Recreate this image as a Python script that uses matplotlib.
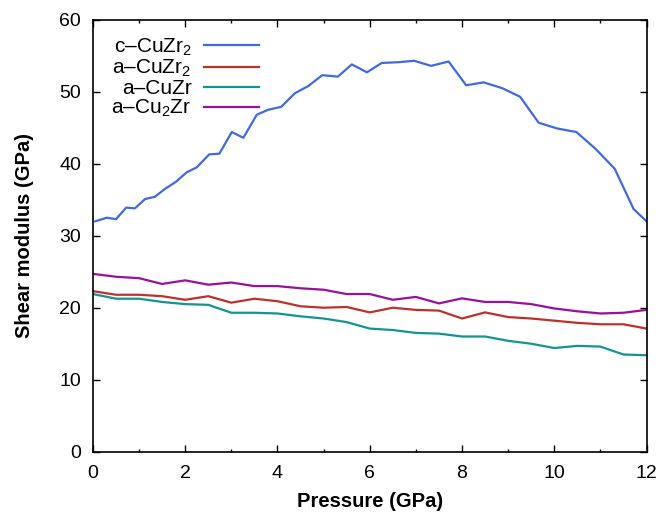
import numpy as np
import matplotlib
matplotlib.use('Agg')
import matplotlib.pyplot as plt
from matplotlib.ticker import MultipleLocator

plt.rcParams['font.family'] = ['Liberation Sans', 'DejaVu Sans']
plt.rcParams['mathtext.fontset'] = 'custom'
plt.rcParams['mathtext.rm'] = 'Liberation Sans'
plt.rcParams['mathtext.it'] = 'Liberation Sans:italic'
plt.rcParams['mathtext.bf'] = 'Liberation Sans:bold'

# c-CuZr2 (finer pressure sampling)
p_c = [0.05, 0.30, 0.50, 0.72, 0.91, 1.13, 1.34, 1.56, 1.80, 2.03,
       2.25, 2.52, 2.74, 3.01, 3.26, 3.55, 3.80, 4.08, 4.38, 4.67,
       4.97, 5.31, 5.61, 5.94, 6.26, 6.62, 6.96, 7.33, 7.71, 8.09,
       8.47, 8.87, 9.26, 9.66, 10.06, 10.48, 10.89, 11.31, 11.72, 12.0]
g_c = [32.0, 32.5, 32.3, 33.9, 33.8, 35.1, 35.4, 36.5, 37.5, 38.8,
       39.5, 41.3, 41.4, 44.4, 43.6, 46.8, 47.5, 47.9, 49.8, 50.8,
       52.3, 52.1, 53.8, 52.7, 54.0, 54.1, 54.3, 53.6, 54.2, 50.9,
       51.3, 50.5, 49.3, 45.7, 44.9, 44.4, 42.1, 39.3, 33.7, 32.0]

# amorphous samples, every 0.5 GPa
p_a = np.arange(0, 12.01, 0.5)
g_aCuZr2 = [22.3, 21.8, 21.8, 21.6, 21.1, 21.6, 20.7, 21.25, 20.9, 20.2,
            20.0, 20.1, 19.35, 20.0, 19.7, 19.6, 18.5, 19.35, 18.7, 18.5,
            18.2, 17.9, 17.7, 17.7, 17.1]
g_aCuZr = [21.9, 21.25, 21.25, 20.8, 20.5, 20.4, 19.3, 19.3, 19.2, 18.8,
           18.5, 18.0, 17.1, 16.9, 16.5, 16.4, 16.0, 16.0, 15.4, 15.0,
           14.4, 14.7, 14.6, 13.5, 13.4]
g_aCu2Zr = [24.7, 24.3, 24.1, 23.3, 23.8, 23.2, 23.5, 23.0, 23.0, 22.7,
            22.5, 21.9, 21.9, 21.1, 21.5, 20.6, 21.3, 20.8, 20.8, 20.5,
            19.9, 19.5, 19.2, 19.3, 19.7]

fig = plt.figure(figsize=(6.64, 5.13), dpi=100)
ax = fig.add_axes([0.140, 0.1195, 0.8337, 0.842])

lw = 1.6
ax.plot(p_c, g_c, color='#4169e1', lw=lw, label='c\u2013CuZr$_2$')
ax.plot(p_a, g_aCuZr2, color='#c0302a', lw=lw, label='a\u2013CuZr$_2$')
ax.plot(p_a, g_aCuZr, color='#119590', lw=lw, label='a\u2013CuZr')
ax.plot(p_a, g_aCu2Zr, color='#9a0ea0', lw=lw, label='a\u2013Cu$_2$Zr')

ax.set_xlim(0, 12)
ax.set_ylim(0, 60)
ax.xaxis.set_major_locator(MultipleLocator(2))
ax.xaxis.set_minor_locator(MultipleLocator(1))
ax.yaxis.set_major_locator(MultipleLocator(10))
ax.tick_params(which='both', direction='in', top=True, right=True,
               labelsize=14, width=1.0)
ax.tick_params(which='major', length=5)
ax.tick_params(axis='y', which='major', pad=8.5)
ax.tick_params(axis='x', which='major', pad=9.5)
ax.tick_params(which='minor', length=2.5)
for s in ax.spines.values():
    s.set_linewidth(1.2)

ax.set_xlabel('Pressure (GPa)', fontsize=14.5, fontweight='bold', labelpad=7)
ax.set_ylabel('Shear modulus (GPa)', fontsize=14.5, fontweight='bold', labelpad=18)

ax.legend(loc='upper left', markerfirst=False, frameon=False, fontsize=15,
          handlelength=2.65, handletextpad=0.6, labelspacing=0.0,
          bbox_to_anchor=(0.007, 0.995), borderaxespad=0.3)

fig.savefig('out.png', dpi=100)
